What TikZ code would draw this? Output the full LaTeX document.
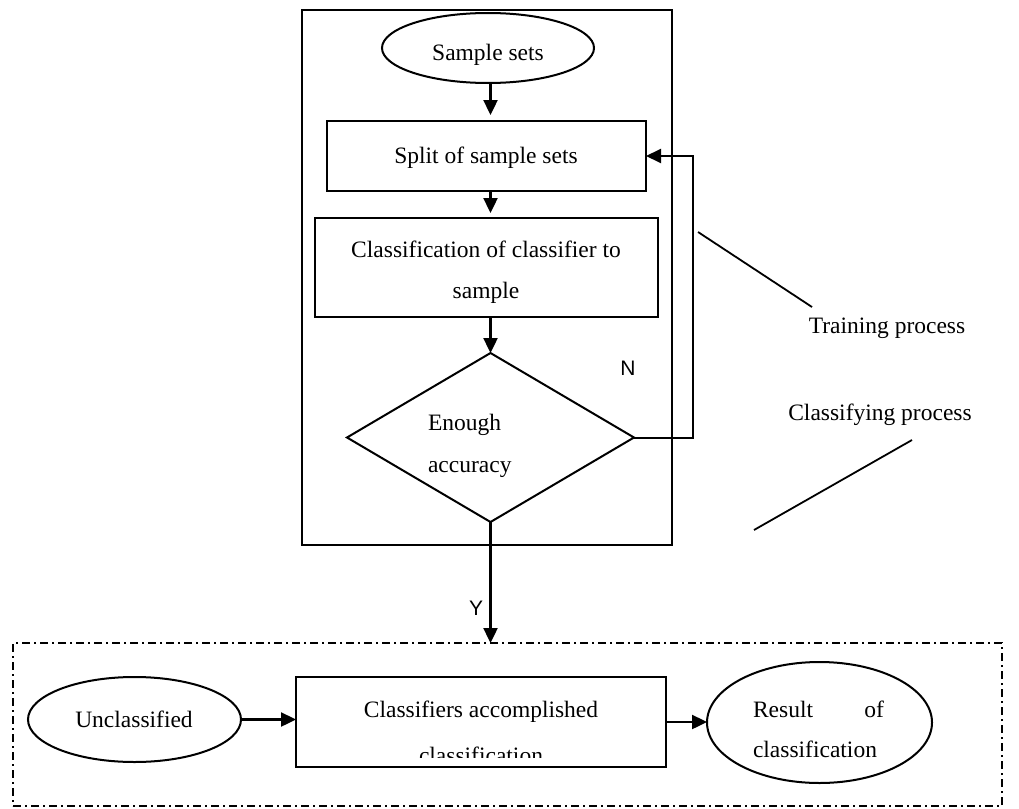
\documentclass[tikz,border=0pt]{standalone}
\usepackage{fontspec}
\setmainfont{Liberation Serif}
\newfontfamily\arialfont{Liberation Sans}
\usetikzlibrary{shapes.geometric,arrows.meta}
\begin{document}
\begin{tikzpicture}[x=1pt,y=-1pt,
  every node/.style={font=\fontsize{23.5}{42}\selectfont, inner sep=0pt, outer sep=0pt},
  box/.style={draw, rectangle, line width=2pt},
  oval/.style={draw, ellipse, line width=2pt},
  dia/.style={draw, diamond, line width=2pt},
  arr/.style={-{Triangle[length=15pt,width=14pt]}, line width=2.4pt},
  fb/.style={-{Triangle[length=15pt,width=14pt]}, line width=2pt},
  leader/.style={line width=1.8pt},
  dashdot/.style={draw, rectangle, line width=1.8pt, dash pattern=on 8pt off 4pt on 2pt off 4pt},
  sanslbl/.style={font=\arialfont\fontsize{21}{24}\selectfont}]
\useasboundingbox (0,0) rectangle (1019,808);
% frames
\node[box, minimum width=370pt, minimum height=535pt] (train) at (487,277.5) {};
\node[dashdot, minimum width=989pt, minimum height=163pt] (classify) at (507.5,724.5) {};
% training nodes
\node[oval, minimum width=212pt, minimum height=70pt] (sample) at (488,48) {};
\node[anchor=base] (sampletxt) at (488,60) {Sample sets};
\node[box, minimum width=319pt, minimum height=70pt] (split) at (486.5,156) {};
\node[anchor=base] (splittxt) at (486,163) {Split of sample sets};
\node[box, minimum width=343pt, minimum height=99pt] (clsf) at (486.5,267.5) {};
\node[anchor=base] (clsftxta) at (486,257) {Classification of classifier to};
\node[anchor=base] (clsftxtb) at (486,298) {sample};
\node[dia, minimum width=287pt, minimum height=169pt] (acc) at (490.5,437.5) {};
\node[anchor=base west] (acctxta) at (428,430) {Enough};
\node[anchor=base west] (acctxtb) at (428,472) {accuracy};
% connectors in training
\draw[arr, shorten >=6pt] (sample.south -| acc.north) -- (split.north -| acc.north);
\draw[arr, shorten >=5pt] (split.south -| acc.north) -- (clsf.north -| acc.north);
\draw[arr] (clsf.south -| acc.north) -- (acc.north);
\coordinate (fbcorner) at (693,437.5);
\draw[fb] (acc.east) -- (fbcorner) |- (split.east);
\draw[arr] (acc.south) -- (acc.south |- classify.north);
\node[sanslbl, anchor=base] (nlbl) at (628,375) {N};
\node[sanslbl, anchor=base] (ylbl) at (476,615) {Y};
% annotations
\node[anchor=base] (traintxt) at (887,333) {Training process};
\node[anchor=base] (classtxt) at (880,420) {Classifying process};
\coordinate (tla) at (698,232);
\coordinate (tlb) at (812,307);
\coordinate (cla) at (912,440);
\coordinate (clb) at (754,530);
\draw[leader] (tla) -- (tlb);
\draw[leader] (cla) -- (clb);
% classifying row
\node[oval, minimum width=213pt, minimum height=85pt] (uncl) at (134.5,719.5) {};
\node[anchor=base] (uncltxt) at (134,727) {Unclassified};
\node[box, minimum width=370pt, minimum height=90pt] (acc2) at (481,722) {};
\begin{scope}
\clip (297,678) rectangle (665,757);
\node[anchor=base] (acc2txta) at (481,717) {Classifiers accomplished};
\node[anchor=base] (acc2txtb) at (481,763) {classification};
\end{scope}
\node[oval, minimum width=225pt, minimum height=121pt] (result) at (819.5,722.5) {};
\node[anchor=base west] (resulttxta) at (753,717) {\makebox[131pt][s]{Result\hfill of}};
\node[anchor=base west] (resulttxtb) at (753,757) {classification};
\draw[arr] (uncl.east) -- (uncl.east -| acc2.west);
\draw[arr] (acc2.east) -- (acc2.east -| result.west);
\end{tikzpicture}
\end{document}
